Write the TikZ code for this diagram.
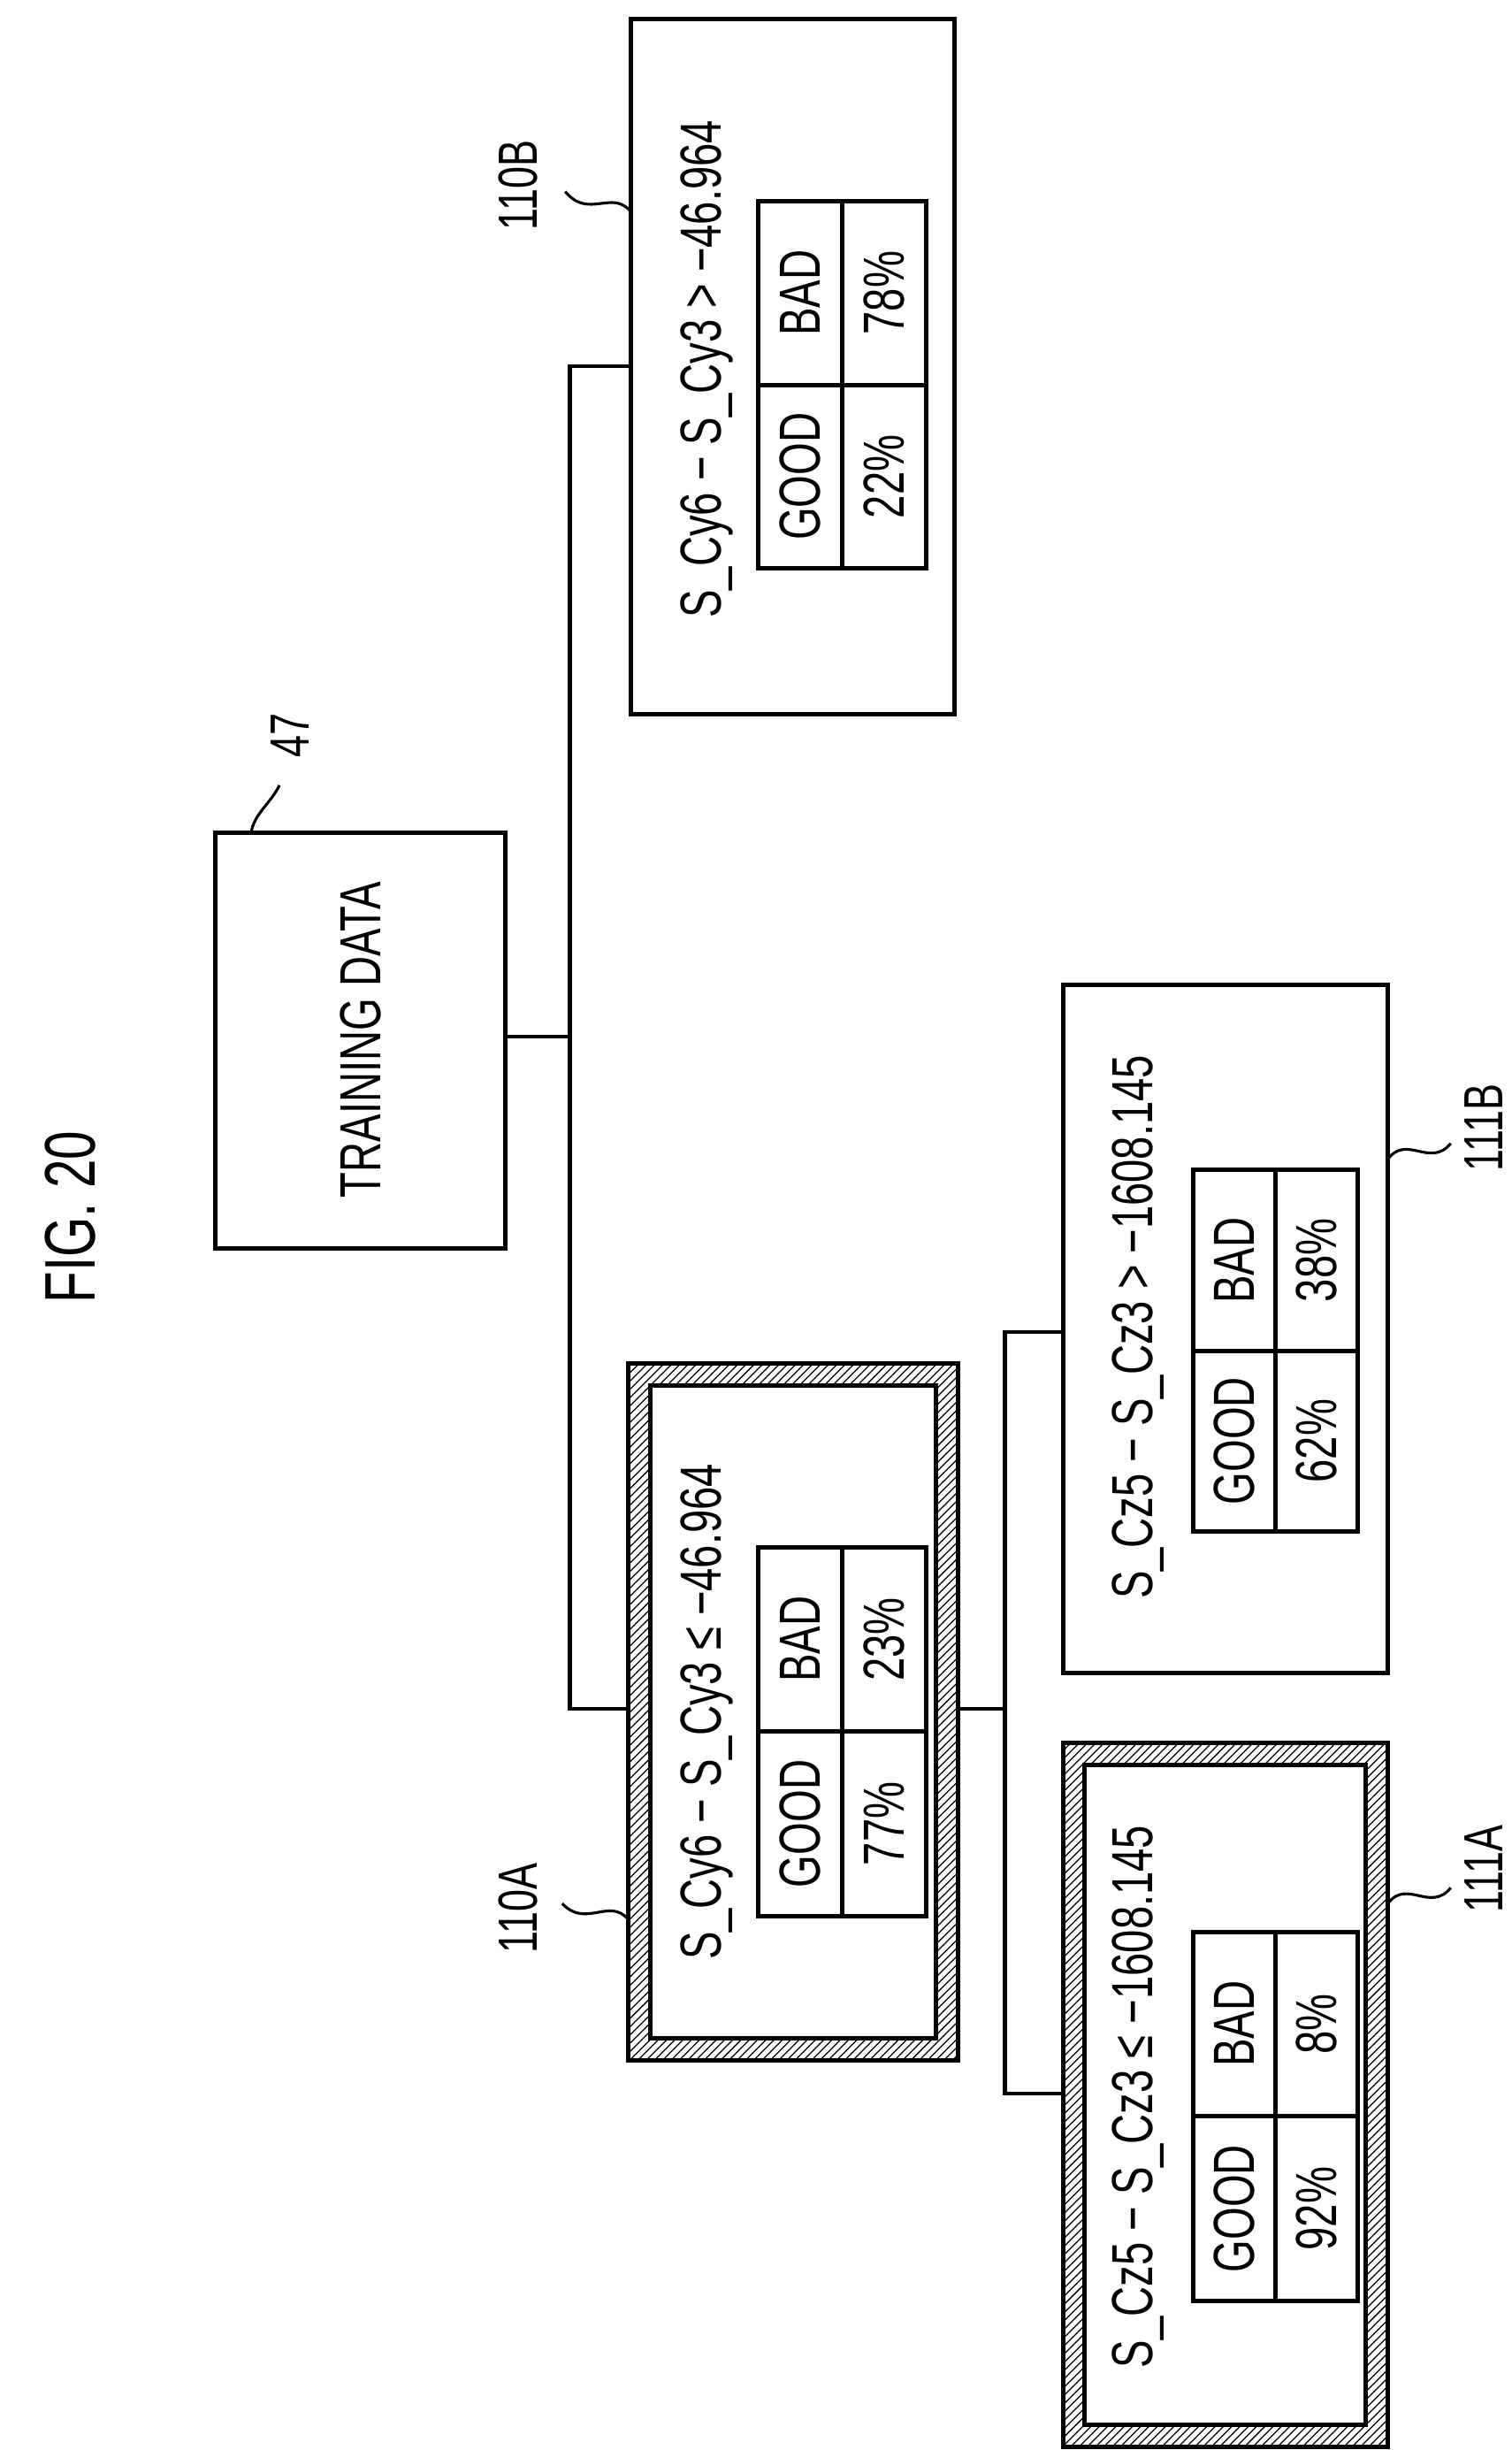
\documentclass[tikz,border=0pt]{standalone}
\usepackage{fontspec}
\setmainfont{Liberation Sans}[FakeStretch=0.72]
\usetikzlibrary{patterns}
\tikzset{
  box/.style={draw, line width=1.6pt},
  txt/.style={rotate=90, inner sep=0, font=\fontsize{21}{25}\selectfont},
  lbl/.style={rotate=90, inner sep=0, font=\fontsize{20}{24}\selectfont},
  wire/.style={line width=1.4pt},
}
% ccw-rotated GOOD/BAD table: x0 x1 y0 y1 (display units), good%, bad%
\newcommand\gbtable[7]{%
  \draw[box] (#1,#3) rectangle (#2,#4);
  \draw[box] ({(#1+#2)/2},#3) -- ({(#1+#2)/2},#4);
  \draw[box] (#1,{(#3+#4)/2}) -- (#2,{(#3+#4)/2});
  \node[txt] (#7-g) at ({#1+(#2-#1)/4},{#4-(#4-#3)/4}) {GOOD};
  \node[txt] (#7-b) at ({#1+(#2-#1)/4},{#3+(#4-#3)/4}) {BAD};
  \node[txt] (#7-gp) at ({#2-(#2-#1)/4},{#4-(#4-#3)/4}) {#5};
  \node[txt] (#7-bp) at ({#2-(#2-#1)/4},{#3+(#4-#3)/4}) {#6};
}
\newcommand\hatchbox[4]{%
  \fill[pattern=north east lines] (#1,#3) rectangle (#2,#4);
  \draw[box] (#1,#3) rectangle (#2,#4);
  \fill[white] ({#1+14},{#3+14}) rectangle ({#2-14},{#4-14});
  \draw[box] ({#1+14},{#3+14}) rectangle ({#2-14},{#4-14});
}
\begin{document}
\begin{tikzpicture}[x=0.02cm, y=-0.02cm]
\useasboundingbox (0,0) rectangle (963,1560);
\node[rotate=90, font=\fontsize{26}{30}\selectfont] (fig) at (45,775) {FIG. 20};

% training data
\draw[box] (137,530) rectangle (322,795);
\node[txt] (train) at (230,662) {TRAINING DATA};
\node[lbl] (l47) at (185,468) {47};
\draw[line width=1pt] (160,530) .. controls (162,518) and (172,512) .. (178,500);

% first split
\draw[box] (402,12) rectangle (608,455);
\node[txt] (c110B) at (450,235) {S\_Cy6 − S\_Cy3 > −46.964};
\gbtable{483}{590}{128}{362}{22\%}{78\%}{t110B}
\node[lbl] (l110B) at (330,118) {110B};
\draw[line width=1pt] (402,135) .. controls (390,120) and (375,140) .. (360,122);

\hatchbox{400}{610}{868}{1312}
\node[txt] (c110A) at (450,1090) {S\_Cy6 − S\_Cy3 ≤ −46.964};
\gbtable{483}{590}{985}{1220}{77\%}{23\%}{t110A}
\node[lbl] (l110A) at (330,1215) {110A};
\draw[line width=1pt] (400,1222) .. controls (388,1208) and (373,1228) .. (358,1212);

% second split
\draw[box] (677,627) rectangle (884,1065);
\node[txt] (c111B) at (725,845) {S\_Cz5 − S\_Cz3 > −1608.145};
\gbtable{760}{865}{745}{975}{62\%}{38\%}{t111B}
\node[lbl] (l111B) at (945,718) {111B};
\draw[line width=1pt] (884,738) .. controls (896,722) and (911,744) .. (924,728);

\hatchbox{677}{884}{1110}{1558}
\node[txt] (c111A) at (725,1335) {S\_Cz5 − S\_Cz3 ≤ −1608.145};
\gbtable{760}{865}{1230}{1465}{92\%}{8\%}{t111A}
\node[lbl] (l111A) at (945,1190) {111A};
\draw[line width=1pt] (884,1212) .. controls (896,1196) and (911,1218) .. (924,1202);

% connectors
\coordinate (tr) at (322,660);
\coordinate (b1) at (363,660);
\draw[wire] (tr) -- (b1);
\draw[wire] (402,233) -| (b1) |- (400,1088);
\coordinate (ar) at (610,1088);
\coordinate (b2) at (640,1088);
\draw[wire] (ar) -- (b2);
\draw[wire] (677,848) -| (b2) |- (677,1333);
\end{tikzpicture}
\end{document}
